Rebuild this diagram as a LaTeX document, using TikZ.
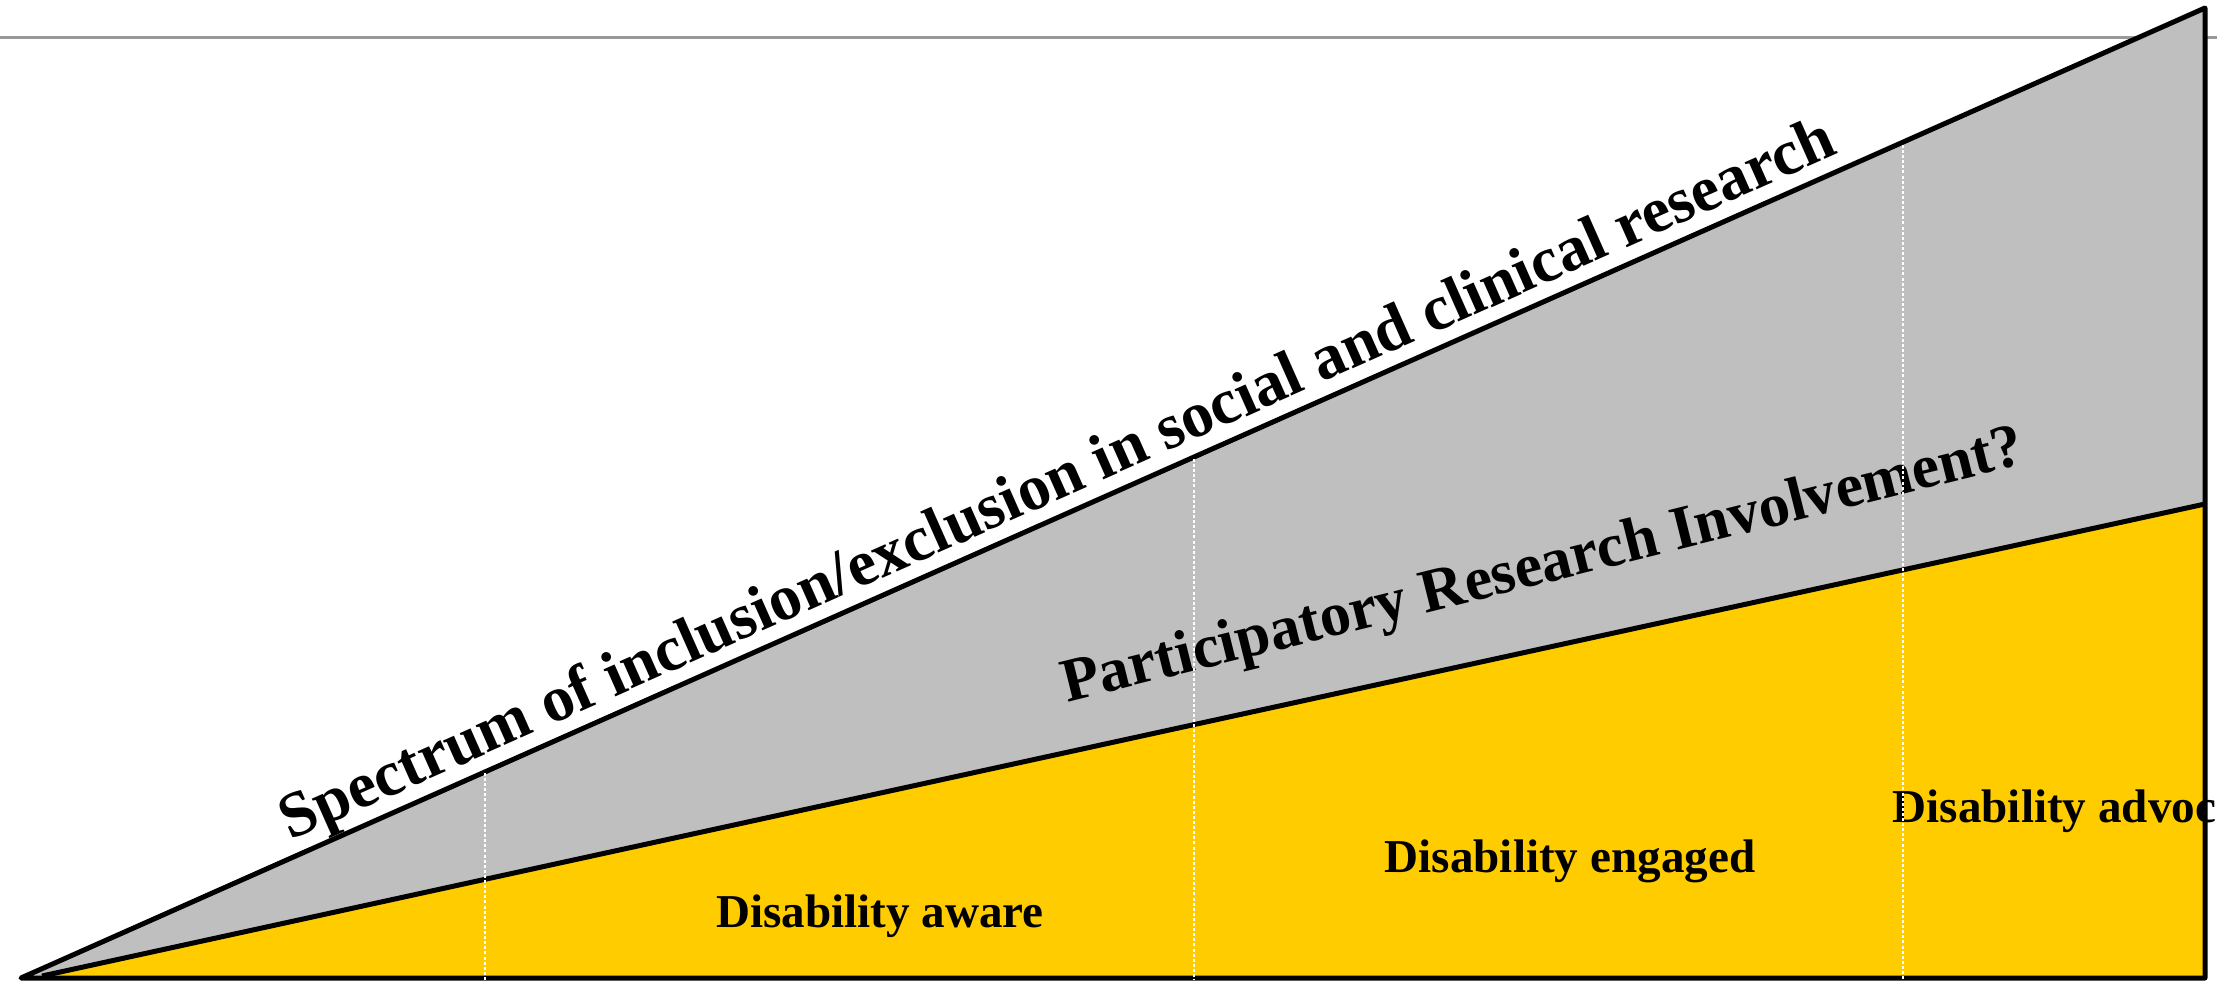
\documentclass[tikz,border=0pt]{standalone}
\usepackage{fontspec}
\setmainfont{Liberation Serif}
\definecolor{gold}{HTML}{FFCC00}
\definecolor{midgray}{HTML}{BFBFBF}
\definecolor{rulegray}{HTML}{999999}
\begin{document}
\begin{tikzpicture}[x=0.01cm,y=-0.01cm,
  edge/.style={draw=black,line width=1.42pt,line join=round},
  divider/.style={draw=white,line width=0.6pt,dash pattern=on 0.85pt off 0.6pt},
  bigtext/.style={font=\bfseries\fontsize{18.3}{22}\selectfont,inner sep=0pt,anchor=base},
  midtext/.style={font=\bfseries\fontsize{17.6}{21}\selectfont,inner sep=0pt,anchor=base},
  levtext/.style={font=\bfseries\fontsize{13.4}{16}\selectfont,inner sep=0pt,anchor=base}]
\useasboundingbox (0,0) rectangle (2217,982);
% top rule
\coordinate (ruleL) at (0,37.5);
\coordinate (ruleR) at (2217,37.5);
\draw[rulegray,line width=0.85pt] (ruleL) -- (ruleR);
% corners
\coordinate (apex) at (21,978);
\coordinate (topR) at (2205,8);
\coordinate (botR) at (2205,978);
\coordinate (yapex) at (42,976);
\coordinate (ytop) at (2205,504);
% gray triangle
\fill[midgray] (apex) -- (topR) -- (botR) -- cycle;
% yellow triangle
\fill[gold] (yapex) -- (ytop) -- (botR) -- cycle;
\draw[edge] (yapex) -- (ytop);
\draw[edge] (apex) -- (topR) -- (botR) -- cycle;
% texts
\node[bigtext,rotate=23.94] (spectrum) at (1065,497) {Spectrum of inclusion/exclusion in social and clinical research};
\node[midtext,rotate=14] (pri) at (1547,583) {Participatory Research Involvement?};
\node[levtext] (aware) at (880,927) {Disability aware};
\node[levtext] (engaged) at (1570,872) {Disability engaged};
\node[levtext,anchor=base west] (advoc) at (1892,822) {Disability advoc};
% dotted dividers
\coordinate (d1t) at (485,773);
\coordinate (d1b) at (485,980);
\coordinate (d2t) at (1194,459);
\coordinate (d2b) at (1194,980);
\coordinate (d3t) at (1903,145);
\coordinate (d3b) at (1903,980);
\draw[divider] (d1t) -- (d1b);
\draw[divider] (d2t) -- (d2b);
\draw[divider] (d3t) -- (d3b);
\end{tikzpicture}
\end{document}
